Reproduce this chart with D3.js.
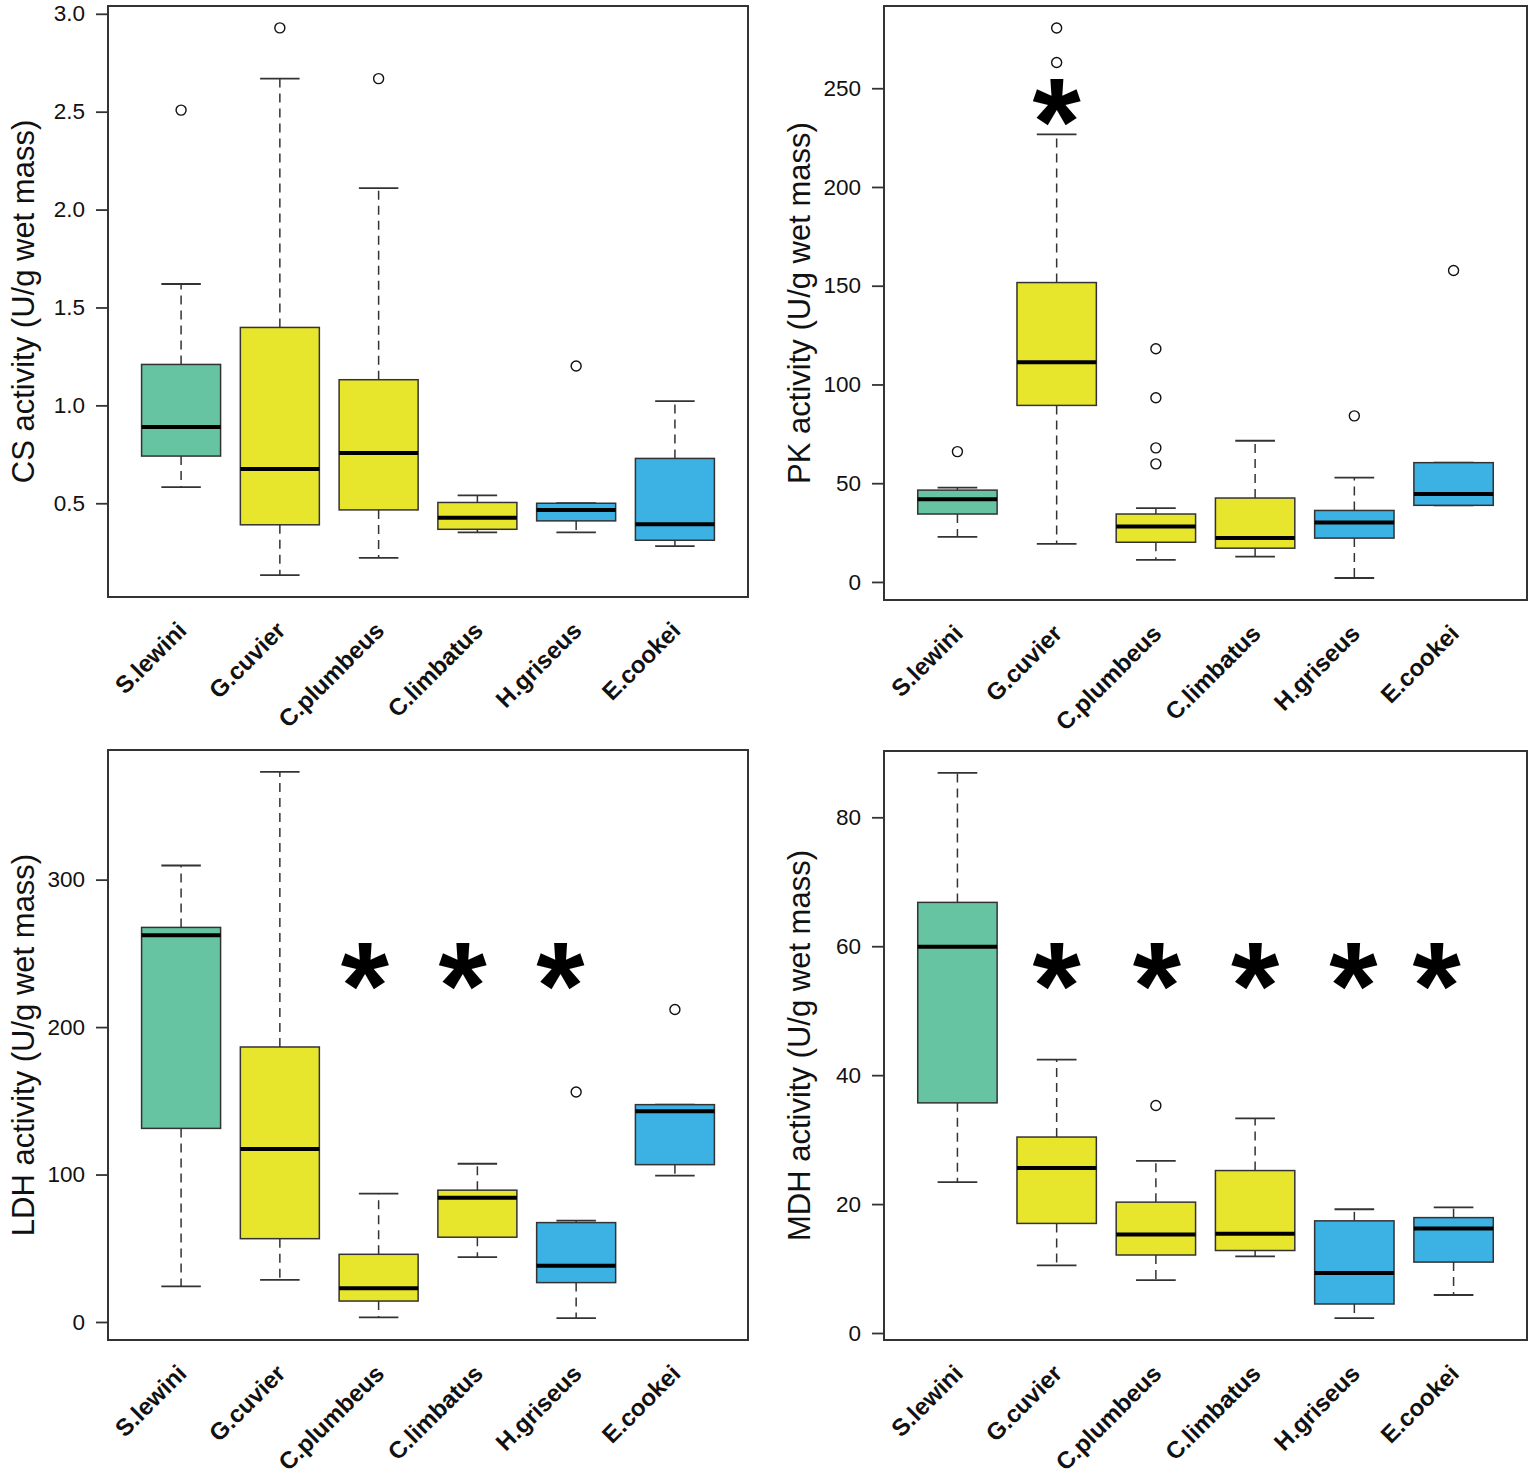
<!DOCTYPE html>
<html><head><meta charset="utf-8">
<script src="https://cdn.jsdelivr.net/npm/d3@7"></script>
<style>
body{margin:0;background:#fff}
svg{display:block}
text{font-family:Arial,"Liberation Sans",Helvetica,sans-serif;fill:#111}
</style>
</head><body>
<script>
// ---------- data ----------
const species = ["S.lewini","G.cuvier","C.plumbeus","C.limbatus","H.griseus","E.cookei"];
const speciesColors = ["#66C4A3","#E8E62C","#E8E62C","#E8E62C","#3BB1E4","#3BB1E4"];

// box stats per species: [lower whisker, Q1, median, Q3, upper whisker]
const csBoxes = [
  [0.582,0.741,0.890,1.209,1.620],
  [0.133,0.390,0.675,1.398,2.669],
  [0.221,0.466,0.757,1.131,2.110],
  [0.351,0.367,0.426,0.504,0.540],
  [0.351,0.410,0.466,0.500,0.500],
  [0.281,0.311,0.393,0.729,1.022]
];
const csOutliers = [[2.508],[2.928],[2.669],[],[1.201],[]];
const csTicks = [0.5,1.0,1.5,2.0,2.5,3.0];

const pkBoxes = [
  [22.8,34.4,41.9,46.5,47.8],
  [19.3,89.4,111.2,151.6,226.6],
  [11.2,20.1,28.1,34.4,37.4],
  [12.8,17.1,22.2,42.5,71.5],
  [2.0,22.2,30.1,36.2,52.8],
  [38.8,38.8,44.5,60.4,60.4]
];
const pkOutliers = [[66],[280.5,263],[118.1,93.3,67.9,59.8],[],[84.1],[157.7]];
const pkTicks = [0,50,100,150,200,250];
const pkStars = [[2.0,242]];

const ldhBoxes = [
  [24.1,131.3,262.2,267.6,309.6],
  [28.5,56.5,117.4,186.5,373.1],
  [3.1,14.2,22.8,45.9,87.0],
  [44.0,57.5,84.2,89.4,107.3],
  [2.6,26.7,38.1,67.4,68.7],
  [99.2,106.7,143.0,147.4,147.4]
];
const ldhOutliers = [[],[],[],[],[156.0],[211.9]];
const ldhTicks = [0,100,200,300];
const ldhStars = [[2.86,240],[3.85,240],[4.84,240]];

const mdhBoxes = [
  [23.4,35.7,59.9,66.8,86.9],
  [10.5,17.0,25.6,30.4,42.4],
  [8.2,12.1,15.3,20.3,26.7],
  [11.9,12.8,15.4,25.2,33.3],
  [2.3,4.5,9.3,17.4,19.2],
  [5.9,11.0,16.2,17.9,19.5]
];
const mdhOutliers = [[],[],[35.3],[],[],[]];
const mdhTicks = [0,20,40,60,80];
const mdhStars = [[2.0,56.6],[3.01,56.6],[4.0,56.6],[4.99,56.6],[5.83,56.6]];

// ---------- layout ----------
const W = 1535, H = 1476;
const panels = [
  {title:"CS activity (U/g wet mass)", boxes:csBoxes, outliers:csOutliers, ticks:csTicks, fmt:d3.format(".1f"), stars:[], frame:{l:108,r:748,t:6,b:597}},
  {title:"PK activity (U/g wet mass)", boxes:pkBoxes, outliers:pkOutliers, ticks:pkTicks, fmt:d3.format("d"), stars:pkStars, frame:{l:884,r:1527,t:6,b:600}},
  {title:"LDH activity (U/g wet mass)", boxes:ldhBoxes, outliers:ldhOutliers, ticks:ldhTicks, fmt:d3.format("d"), stars:ldhStars, frame:{l:108,r:748,t:750,b:1340}},
  {title:"MDH activity (U/g wet mass)", boxes:mdhBoxes, outliers:mdhOutliers, ticks:mdhTicks, fmt:d3.format("d"), stars:mdhStars, frame:{l:884,r:1527,t:751,b:1340}}
];

const svg = d3.select("body").append("svg").attr("width",W).attr("height",H);

panels.forEach(p => {
  const f = p.frame;
  const g = svg.append("g");
  const n = species.length;
  const xPad = n * 0.04;
  const x = d3.scaleLinear().domain([0.5 - xPad, n + 0.5 + xPad]).range([f.l, f.r]);
  const allVals = p.boxes.flat().concat(p.outliers.flat());
  const lo = d3.min(allVals), hi = d3.max(allVals), pad = (hi - lo) * 0.04;
  const y = d3.scaleLinear().domain([lo - pad, hi + pad]).range([f.b, f.t]);

  const boxW = x(1.4) - x(1.0);   // half of 0.8 box width
  const capW = x(1.2) - x(1.0);   // half of staple width

  const items = species.map((s,i) => ({s, i: i+1, st: p.boxes[i], out: p.outliers[i], color: speciesColors[i]}));

  const bg = g.selectAll("g.box").data(items).join("g").attr("class","box");
  // whiskers (dashed)
  bg.append("line").attr("x1",d=>x(d.i)).attr("x2",d=>x(d.i))
    .attr("y1",d=>y(d.st[3])).attr("y2",d=>y(d.st[4]))
    .attr("stroke","#333").attr("stroke-width",1.5).attr("stroke-dasharray","9,6");
  bg.append("line").attr("x1",d=>x(d.i)).attr("x2",d=>x(d.i))
    .attr("y1",d=>y(d.st[1])).attr("y2",d=>y(d.st[0]))
    .attr("stroke","#333").attr("stroke-width",1.5).attr("stroke-dasharray","9,6");
  // staples
  [0,4].forEach(k => {
    bg.append("line").attr("x1",d=>x(d.i)-capW).attr("x2",d=>x(d.i)+capW)
      .attr("y1",d=>y(d.st[k])).attr("y2",d=>y(d.st[k]))
      .attr("stroke","#333").attr("stroke-width",1.8);
  });
  // box
  bg.append("rect").attr("x",d=>x(d.i)-boxW).attr("width",2*boxW)
    .attr("y",d=>y(d.st[3])).attr("height",d=>y(d.st[1])-y(d.st[3]))
    .attr("fill",d=>d.color).attr("stroke","#333").attr("stroke-width",1.5);
  // median
  bg.append("line").attr("x1",d=>x(d.i)-boxW).attr("x2",d=>x(d.i)+boxW)
    .attr("y1",d=>y(d.st[2])).attr("y2",d=>y(d.st[2]))
    .attr("stroke","#000").attr("stroke-width",4);
  // outliers
  bg.selectAll("circle").data(d=>d.out.map(v=>({i:d.i,v}))).join("circle")
    .attr("cx",d=>x(d.i)).attr("cy",d=>y(d.v)).attr("r",5)
    .attr("fill","none").attr("stroke","#111").attr("stroke-width",1.4);

  // significance asterisks
  g.selectAll("text.star").data(p.stars).join("text").attr("class","star")
    .attr("x",d=>x(d[0])).attr("y",d=>y(d[1]) + 0.49*124)
    .attr("text-anchor","middle").attr("font-size",124).attr("font-weight","bold")
    .style("fill","#000").text("*");

  // frame
  g.append("rect").attr("x",f.l).attr("y",f.t).attr("width",f.r-f.l).attr("height",f.b-f.t)
    .attr("fill","none").attr("stroke","#333").attr("stroke-width",2);

  // y axis
  const ax = g.append("g").attr("transform",`translate(${f.l},0)`)
    .call(d3.axisLeft(y).tickValues(p.ticks).tickFormat(p.fmt).tickSize(12).tickPadding(11));
  ax.select(".domain").remove();
  ax.selectAll(".tick line").attr("stroke","#333").attr("stroke-width",1.8);
  ax.selectAll(".tick text").attr("font-size",22.5).style("fill","#111")
    .attr("font-family","Arial, 'Liberation Sans', Helvetica, sans-serif");

  // y title
  g.append("text").attr("transform",`translate(${f.l-74},${(f.t+f.b)/2}) rotate(-90)`)
    .attr("text-anchor","middle").attr("font-size",31).text(p.title);

  // x labels
  g.selectAll("text.xl").data(items).join("text").attr("class","xl")
    .attr("transform",d=>`translate(${x(d.i)+7},${f.b+35}) rotate(-45)`)
    .attr("text-anchor","end").attr("font-size",24).attr("font-weight","bold")
    .text(d=>d.s);
});
</script>
</body></html>
